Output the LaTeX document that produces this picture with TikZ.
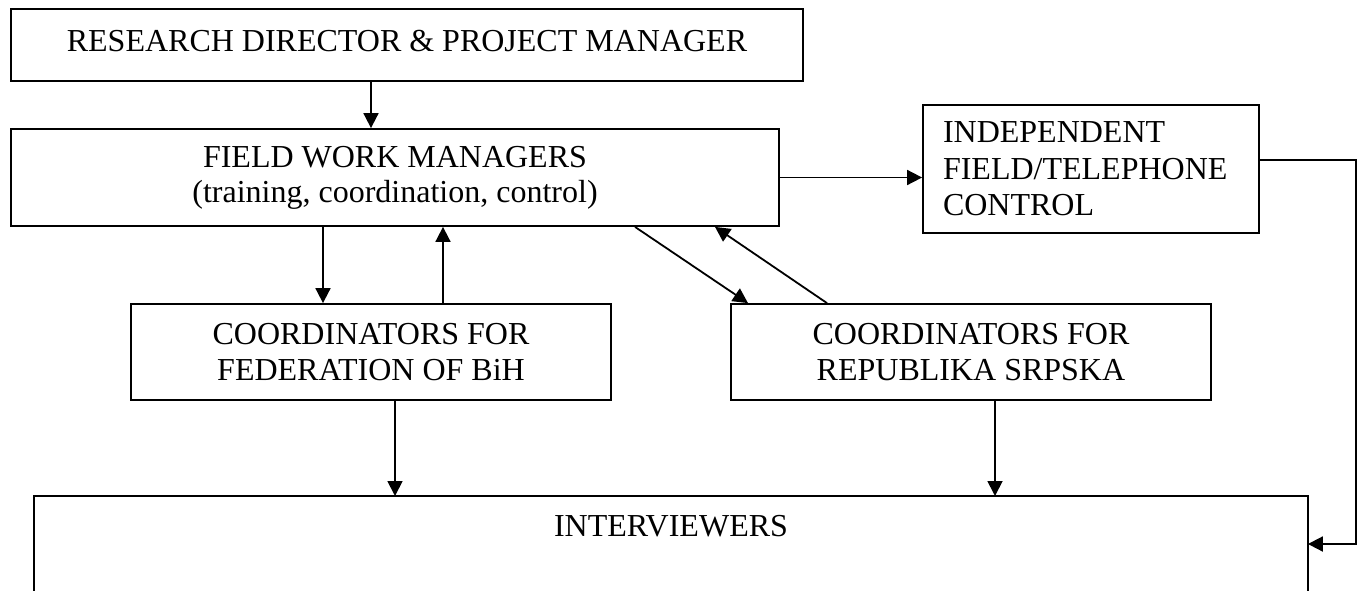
\documentclass[tikz,border=0pt]{standalone}
\usepackage{fontspec}
\setmainfont{Liberation Serif}
\usetikzlibrary{arrows.meta,calc}
\begin{document}
\begin{tikzpicture}[x=1pt,y=-1pt,
  box/.style={draw=black,line width=1.8pt,inner sep=0pt,align=center,font=\fontsize{32}{36.5}\selectfont},
  arr/.style={line width=1.8pt,-{Triangle[length=15pt,width=15pt]}},
  frameline/.style={line width=1.8pt}]
\useasboundingbox (0,0) rectangle (1361,590);
\clip (0,0) rectangle (1361,590);
\node[box,align=none,minimum width=792pt,minimum height=72pt,text depth=9pt] (b1) at (407,45) {RESEARCH DIRECTOR \& PROJECT MANAGER};
\node[box,minimum width=768pt,minimum height=97pt,font=\fontsize{32}{35}\selectfont] (b2) at (395,177.5) {FIELD WORK MANAGERS\\(training, coordination, control)};
\node[box,align=left,text width=296pt,inner xsep=20pt,minimum width=336pt,minimum height=128pt] (b3) at (1091,169) {INDEPENDENT\\FIELD/TELEPHONE\\CONTROL};
\node[box,minimum width=480pt,minimum height=96pt] (b4) at (371,352) {COORDINATORS FOR\\FEDERATION OF BiH};
\node[box,minimum width=480pt,minimum height=96pt] (b5) at (971,352) {COORDINATORS FOR\\REPUBLIKA SRPSKA};
\node[box,draw=none,minimum width=1272pt,minimum height=59pt] (b6) at (671,526.4) {INTERVIEWERS};
\draw[frameline] ([yshift=-100pt]b6.south west) -- (b6.north west) -- (b6.north east) -- ([yshift=-100pt]b6.south east);
\draw[arr] ([xshift=-36pt]b1.south) -- ([xshift=-36pt]b1.south |- b2.north);
\draw[arr] (b2.east) -- (b2.east -| b3.west);
\draw[arr] ([xshift=-72pt]b2.south) -- ([xshift=-72pt]b2.south |- b4.north);
\draw[arr] ([xshift=72pt]b4.north) -- ([xshift=72pt]b4.north |- b2.south);
\draw[arr] ([xshift=240pt]b2.south) -- ([xshift=-223pt]b5.north);
\draw[arr] ([xshift=-144pt]b5.north) -- ([xshift=320pt]b2.south);
\draw[arr] ([xshift=24pt]b4.south) -- ([xshift=24pt]b4.south |- b6.north);
\draw[arr] ([xshift=24pt]b5.south) -- ([xshift=24pt]b5.south |- b6.north);
\draw[arr] ([yshift=9pt]b3.east) -- ++(96pt,0) |- ([yshift=-17.6pt]b6.east);
\end{tikzpicture}
\end{document}
